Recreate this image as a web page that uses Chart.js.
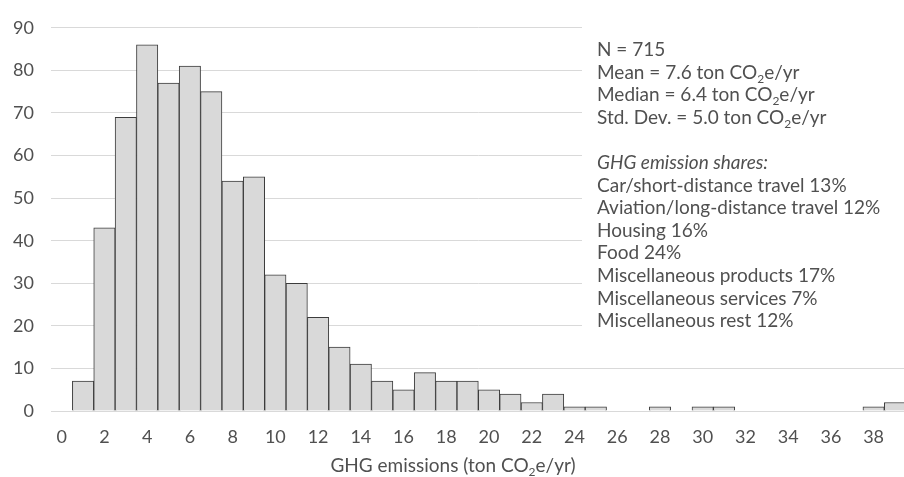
<!DOCTYPE html>
<html>
<head>
<meta charset="utf-8">
<script src="https://cdn.jsdelivr.net/npm/chart.js@4.4.1/dist/chart.umd.min.js"></script>
<style>
  html, body { margin: 0; padding: 0; background: #fff; overflow: hidden; }
  #wrap { position: relative; width: 910px; height: 477px; }
</style>
</head>
<body>
<div id="wrap"><canvas id="histChart"></canvas></div>
<script>
  // histogram bins (ton CO2e/yr), one per integer value
  var binLabels = ["0","1","2","3","4","5","6","7","8","9","10","11","12","13","14","15","16","17","18","19",
                   "20","21","22","23","24","25","26","27","28","29","30","31","32","33","34","35","36","37","38","39"];
  var counts = [0, 7, 43, 69, 86, 77, 81, 75, 54, 55, 32, 30, 22, 15, 11, 7, 5, 9, 7, 7,
                5, 4, 2, 4, 1, 1, 0, 0, 1, 0, 1, 1, 0, 0, 0, 0, 0, 0, 1, 2];
  var yTicks = [0, 10, 20, 30, 40, 50, 60, 70, 80, 90];

  // annotation text: each line is a list of [text, subscript?] parts
  var statLines = [
    [["N = 715"]],
    [["Mean = 7.6 ton CO"], ["2", true], ["e/yr"]],
    [["Median = 6.4 ton CO"], ["2", true], ["e/yr"]],
    [["Std. Dev. = 5.0 ton CO"], ["2", true], ["e/yr"]]
  ];
  var shareTitle = "GHG emission shares:";
  var shareLines = [
    "Car/short-distance travel 13%",
    "Aviation/long-distance travel 12%",
    "Housing 16%",
    "Food 24%",
    "Miscellaneous products 17%",
    "Miscellaneous services 7%",
    "Miscellaneous rest 12%"
  ];
  var xTitle = [["GHG emissions (ton CO"], ["2", true], ["e/yr)"]];

  var FONT = "Lato, 'Open Sans', sans-serif";
  var TEXT = "#505050";

  function drawParts(ctx, parts, x, y, size, style, align) {
    var full = size + "px " + FONT;
    var sub = Math.round(size * 0.65) + "px " + FONT;
    var total = 0;
    parts.forEach(function (p) {
      ctx.font = (style || "") + " " + (p[1] ? sub : full);
      total += ctx.measureText(p[0]).width;
    });
    var cx = align === "center" ? x - total / 2 : x;
    parts.forEach(function (p) {
      ctx.font = (style || "") + " " + (p[1] ? sub : full);
      ctx.fillText(p[0], cx, p[1] ? y + size * 0.22 : y);
      cx += ctx.measureText(p[0]).width;
    });
  }

  var textPlugin = {
    id: "statsText",
    beforeDatasetsDraw: function (chart) {
      var ctx = chart.ctx;
      ctx.save();
      ctx.fillStyle = "#fff";
      ctx.fillRect(582, 26, 330, 314);
      ctx.restore();
    },
    afterDraw: function (chart) {
      var ctx = chart.ctx;
      ctx.save();
      ctx.fillStyle = TEXT;
      ctx.textBaseline = "alphabetic";
      ctx.textAlign = "left";
      var x0 = 597, y0 = 56, step = 22.6;
      statLines.forEach(function (line, i) {
        drawParts(ctx, line, x0, y0 + i * step, 19);
      });
      ctx.font = "italic 19px " + FONT;
      ctx.fillText(shareTitle, x0, y0 + 5 * step);
      ctx.font = "19px " + FONT;
      shareLines.forEach(function (s, i) {
        ctx.fillText(s, x0, y0 + (6 + i) * step);
      });
      drawParts(ctx, xTitle, 453, 472, 19, "", "center");
      ctx.restore();
    }
  };

  new Chart(document.getElementById("histChart").getContext("2d"), {
    type: "bar",
    data: {
      labels: binLabels,
      datasets: [{
        data: counts,
        backgroundColor: "#d9d9d9",
        borderColor: "#3c3c3c",
        borderWidth: 1,
        barPercentage: 1,
        categoryPercentage: 1
      }]
    },
    options: {
      responsive: true,
      maintainAspectRatio: false,
      animation: false,
      layout: { padding: { top: 19, right: 1, left: 0, bottom: 0 } },
      plugins: { legend: { display: false }, tooltip: { enabled: false } },
      scales: {
        x: {
          grid: { display: false, drawTicks: false },
          border: { display: false },
          ticks: {
            autoSkip: false,
            maxRotation: 0,
            color: TEXT,
            font: { family: FONT, size: 18 },
            padding: 15,
            callback: function (v, i) { return i % 2 === 0 ? binLabels[i] : ""; }
          },
          afterFit: function (s) { s.height = 66; }
        },
        y: {
          min: 0,
          max: 90,
          afterBuildTicks: function (s) { s.ticks = yTicks.map(function (v) { return { value: v }; }); },
          grid: { color: "#d9d9d9", lineWidth: 1, drawTicks: false },
          border: { display: false },
          ticks: {
            color: TEXT,
            font: { family: FONT, size: 18 },
            padding: 17
          },
          afterFit: function (s) { s.width = 51; }
        }
      }
    },
    plugins: [textPlugin]
  });
</script>
</body>
</html>
